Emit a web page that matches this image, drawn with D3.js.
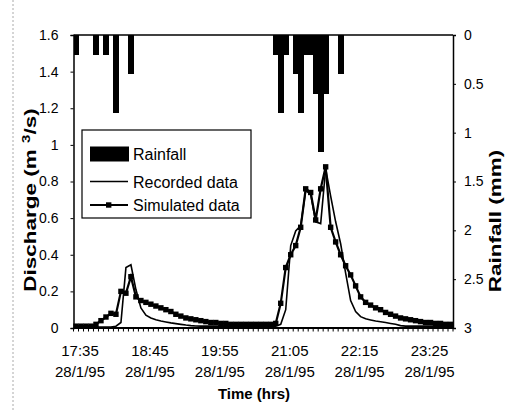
<!DOCTYPE html>
<html><head><meta charset="utf-8">
<script src="https://cdn.jsdelivr.net/npm/d3@7"></script>
<style>
html,body{margin:0;padding:0;background:#fff;}
svg{display:block;}
text{font-family:"Liberation Sans",Arial,Helvetica,sans-serif;fill:#000;}
</style></head>
<body><svg id="c" width="511" height="411"></svg>
<script>
const times = ["17:30","17:35","17:40","17:45","17:50","17:55","18:00","18:05","18:10","18:15",
"18:20","18:25","18:30","18:35","18:40","18:45","18:50","18:55","19:00","19:05",
"19:10","19:15","19:20","19:25","19:30","19:35","19:40","19:45","19:50","19:55",
"20:00","20:05","20:10","20:15","20:20","20:25","20:30","20:35","20:40","20:45",
"20:50","20:55","21:00","21:05","21:10","21:15","21:20","21:25","21:30","21:35",
"21:40","21:45","21:50","21:55","22:00","22:05","22:10","22:15","22:20","22:25",
"22:30","22:35","22:40","22:45","22:50","22:55","23:00","23:05","23:10","23:15",
"23:20","23:25","23:30","23:35","23:40","23:45"];
const xTickLabels = ["17:35","18:45","19:55","21:05","22:15","23:25"];
const dateLabel = "28/1/95";
const rainfall = [0.2,0,0,0,0.2,0,0.2,0,0.8,0,
0,0.4,0,0,0,0,0,0,0,0,
0,0,0,0,0,0,0,0,0,0,
0,0,0,0,0,0,0,0,0,0,
0.2,0.8,0.2,0,0.4,0.8,0.2,0.2,0.6,1.2,
0.6,0,0,0.4,0,0,0,0,0,0,
0,0,0,0,0,0,0,0,0,0,
0,0,0,0,0,0];
const recorded = [0.005,0.005,0.005,0.005,0.005,0.005,0.005,0.005,0.01,0.03,
0.33,0.345,0.21,0.11,0.07,0.055,0.045,0.038,0.033,0.028,
0.024,0.02,0.016,0.013,0.011,0.01,0.01,0.01,0.01,0.01,
0.01,0.01,0.01,0.01,0.01,0.01,0.01,0.01,0.01,0.01,
0.01,0.02,0.1,0.45,0.53,0.56,0.75,0.73,0.58,0.57,
0.87,0.72,0.58,0.46,0.3,0.15,0.09,0.062,0.05,0.044,
0.038,0.034,0.03,0.025,0.02,0.013,0.01,0.01,0.01,0.01,
0.01,0.01,0.01,0.01,0.01,0.01];
const simulated = [0.01,0.01,0.01,0.01,0.02,0.04,0.06,0.08,0.075,0.2,
0.19,0.28,0.17,0.15,0.14,0.13,0.12,0.11,0.1,0.09,
0.075,0.065,0.055,0.05,0.045,0.04,0.035,0.03,0.03,0.025,
0.025,0.02,0.02,0.02,0.02,0.02,0.02,0.02,0.02,0.02,
0.025,0.135,0.33,0.4,0.45,0.55,0.76,0.74,0.59,0.76,
0.88,0.55,0.47,0.4,0.34,0.29,0.23,0.17,0.14,0.125,
0.11,0.1,0.085,0.075,0.065,0.055,0.05,0.045,0.04,0.035,
0.03,0.03,0.025,0.025,0.02,0.02];
const leftTicks = [0,0.2,0.4,0.6,0.8,1,1.2,1.4,1.6];
const rightTicks = [0,0.5,1,1.5,2,2.5,3];
const legendLabels = ["Rainfall","Recorded data","Simulated data"];

const svg = d3.select("#c");
const L = 73.5, R = 453, T = 35, B = 328;
const x = d3.scaleBand().domain(times).range([L, R]).padding(0);
const yL = d3.scaleLinear().domain([0, 1.6]).range([B, T]);
const yR = d3.scaleLinear().domain([0, 3]).range([T, B]);
const fmt = d => String(+d.toFixed(1));

// faint page border on left
svg.append("line").attr("x1",13).attr("x2",13).attr("y1",0).attr("y2",411)
  .attr("stroke","#aaa").attr("stroke-width",1).attr("stroke-dasharray","2,2");

// rainfall bars hanging from top
svg.append("g").attr("shape-rendering","crispEdges").selectAll("rect")
  .data(times.map((t,i)=>({t, v: rainfall[i]})).filter(d=>d.v>0))
  .join("rect")
  .attr("x", d => x(d.t))
  .attr("y", yR(0))
  .attr("width", x.bandwidth()+0.8)
  .attr("height", d => yR(d.v) - yR(0))
  .attr("fill", "#000");

// plot frame (top)
svg.append("line").attr("x1",L).attr("x2",R).attr("y1",T).attr("y2",T).attr("stroke","#000").attr("stroke-width",1.5);

// left axis
const gL = svg.append("g").attr("transform",`translate(${L},0)`)
  .call(d3.axisLeft(yL).tickValues(leftTicks).tickFormat(fmt).tickSize(3).tickPadding(12));
gL.select(".domain").attr("stroke-width",1.5);
gL.selectAll("text").style("font-size","14px");

// right axis
const gR = svg.append("g").attr("transform",`translate(${R},0)`)
  .call(d3.axisRight(yR).tickValues(rightTicks).tickFormat(fmt).tickSize(3).tickPadding(8));
gR.select(".domain").attr("stroke-width",1.5);
gR.selectAll("text").style("font-size","14px");

// bottom axis: tick per category boundary
const gB = svg.append("g").attr("transform",`translate(0,${B})`);
gB.append("line").attr("x1",L).attr("x2",R).attr("stroke","#000").attr("stroke-width",2);
const bounds = times.map(t => x(t)).concat([R]);
gB.selectAll(".tk").data(bounds).join("line").attr("class","tk")
  .attr("x1",d=>d).attr("x2",d=>d).attr("y1",0).attr("y2",3.5).attr("stroke","#000").attr("stroke-width",1);
const lab = gB.selectAll(".lab").data(xTickLabels).join("g").attr("class","lab")
  .attr("transform", d => `translate(${x(d)+x.bandwidth()/2 - 1},0)`);
lab.append("text").attr("y",28).attr("text-anchor","middle").style("font-size","15px").text(d=>d);
lab.append("text").attr("y",49).attr("text-anchor","middle").style("font-size","15px").text(dateLabel);

// lines
const cx = t => x(t) + x.bandwidth()/2;
const line = d3.line().x(d=>cx(d.t)).y(d=>yL(d.v));
const recData = times.map((t,i)=>({t, v: recorded[i]}));
const simData = times.map((t,i)=>({t, v: simulated[i]}));
svg.append("path").datum(recData).attr("d", line).attr("fill","none").attr("stroke","#000").attr("stroke-width",1.6);
svg.append("path").datum(simData).attr("d", line).attr("fill","none").attr("stroke","#000").attr("stroke-width",2.2);
svg.append("g").selectAll("rect").data(simData).join("rect")
  .attr("x", d=>cx(d.t)-2.7).attr("y", d=>yL(d.v)-2.7).attr("width",5.4).attr("height",5.4).attr("fill","#000");

// axis titles (stretched along their length like the scanned original)
svg.append("text").attr("transform","translate(36,200) rotate(-90) scale(1.5,1.05)").attr("text-anchor","middle")
  .style("font-size","15px").style("font-weight","bold")
  .call(t => { t.append("tspan").text("Discharge (m ");
               t.append("tspan").attr("dy",-6).style("font-size","10px").text("3");
               t.append("tspan").attr("dy",6).text("/s)"); });
svg.append("text").attr("transform","translate(501,221) rotate(-90) scale(1.5,1.05)").attr("text-anchor","middle")
  .style("font-size","15px").style("font-weight","bold").text("Rainfall (mm)");
svg.append("text").attr("x",254).attr("y",399).attr("text-anchor","middle")
  .style("font-size","15px").style("font-weight","bold").text("Time (hrs)");

// legend
const lg = svg.append("g");
lg.append("rect").attr("x",82).attr("y",130).attr("width",169).attr("height",88)
  .attr("fill","#fff").attr("stroke","#000").attr("stroke-width",1.2);
const rows = [154, 181.5, 205];
lg.append("rect").attr("x",90).attr("y",rows[0]-7.5).attr("width",39).attr("height",15).attr("fill","#000");
lg.append("line").attr("x1",90).attr("x2",128).attr("y1",rows[1]).attr("y2",rows[1]).attr("stroke","#000").attr("stroke-width",1.6);
lg.append("line").attr("x1",90).attr("x2",128).attr("y1",rows[2]).attr("y2",rows[2]).attr("stroke","#000").attr("stroke-width",2);
lg.append("rect").attr("x",106).attr("y",rows[2]-2.7).attr("width",5.4).attr("height",5.4).attr("fill","#000");
lg.selectAll(".lt").data(legendLabels).join("text").attr("class","lt")
  .attr("x",133).attr("y",(d,i)=>rows[i]+6).style("font-size","16px").text(d=>d);
</script></body></html>
